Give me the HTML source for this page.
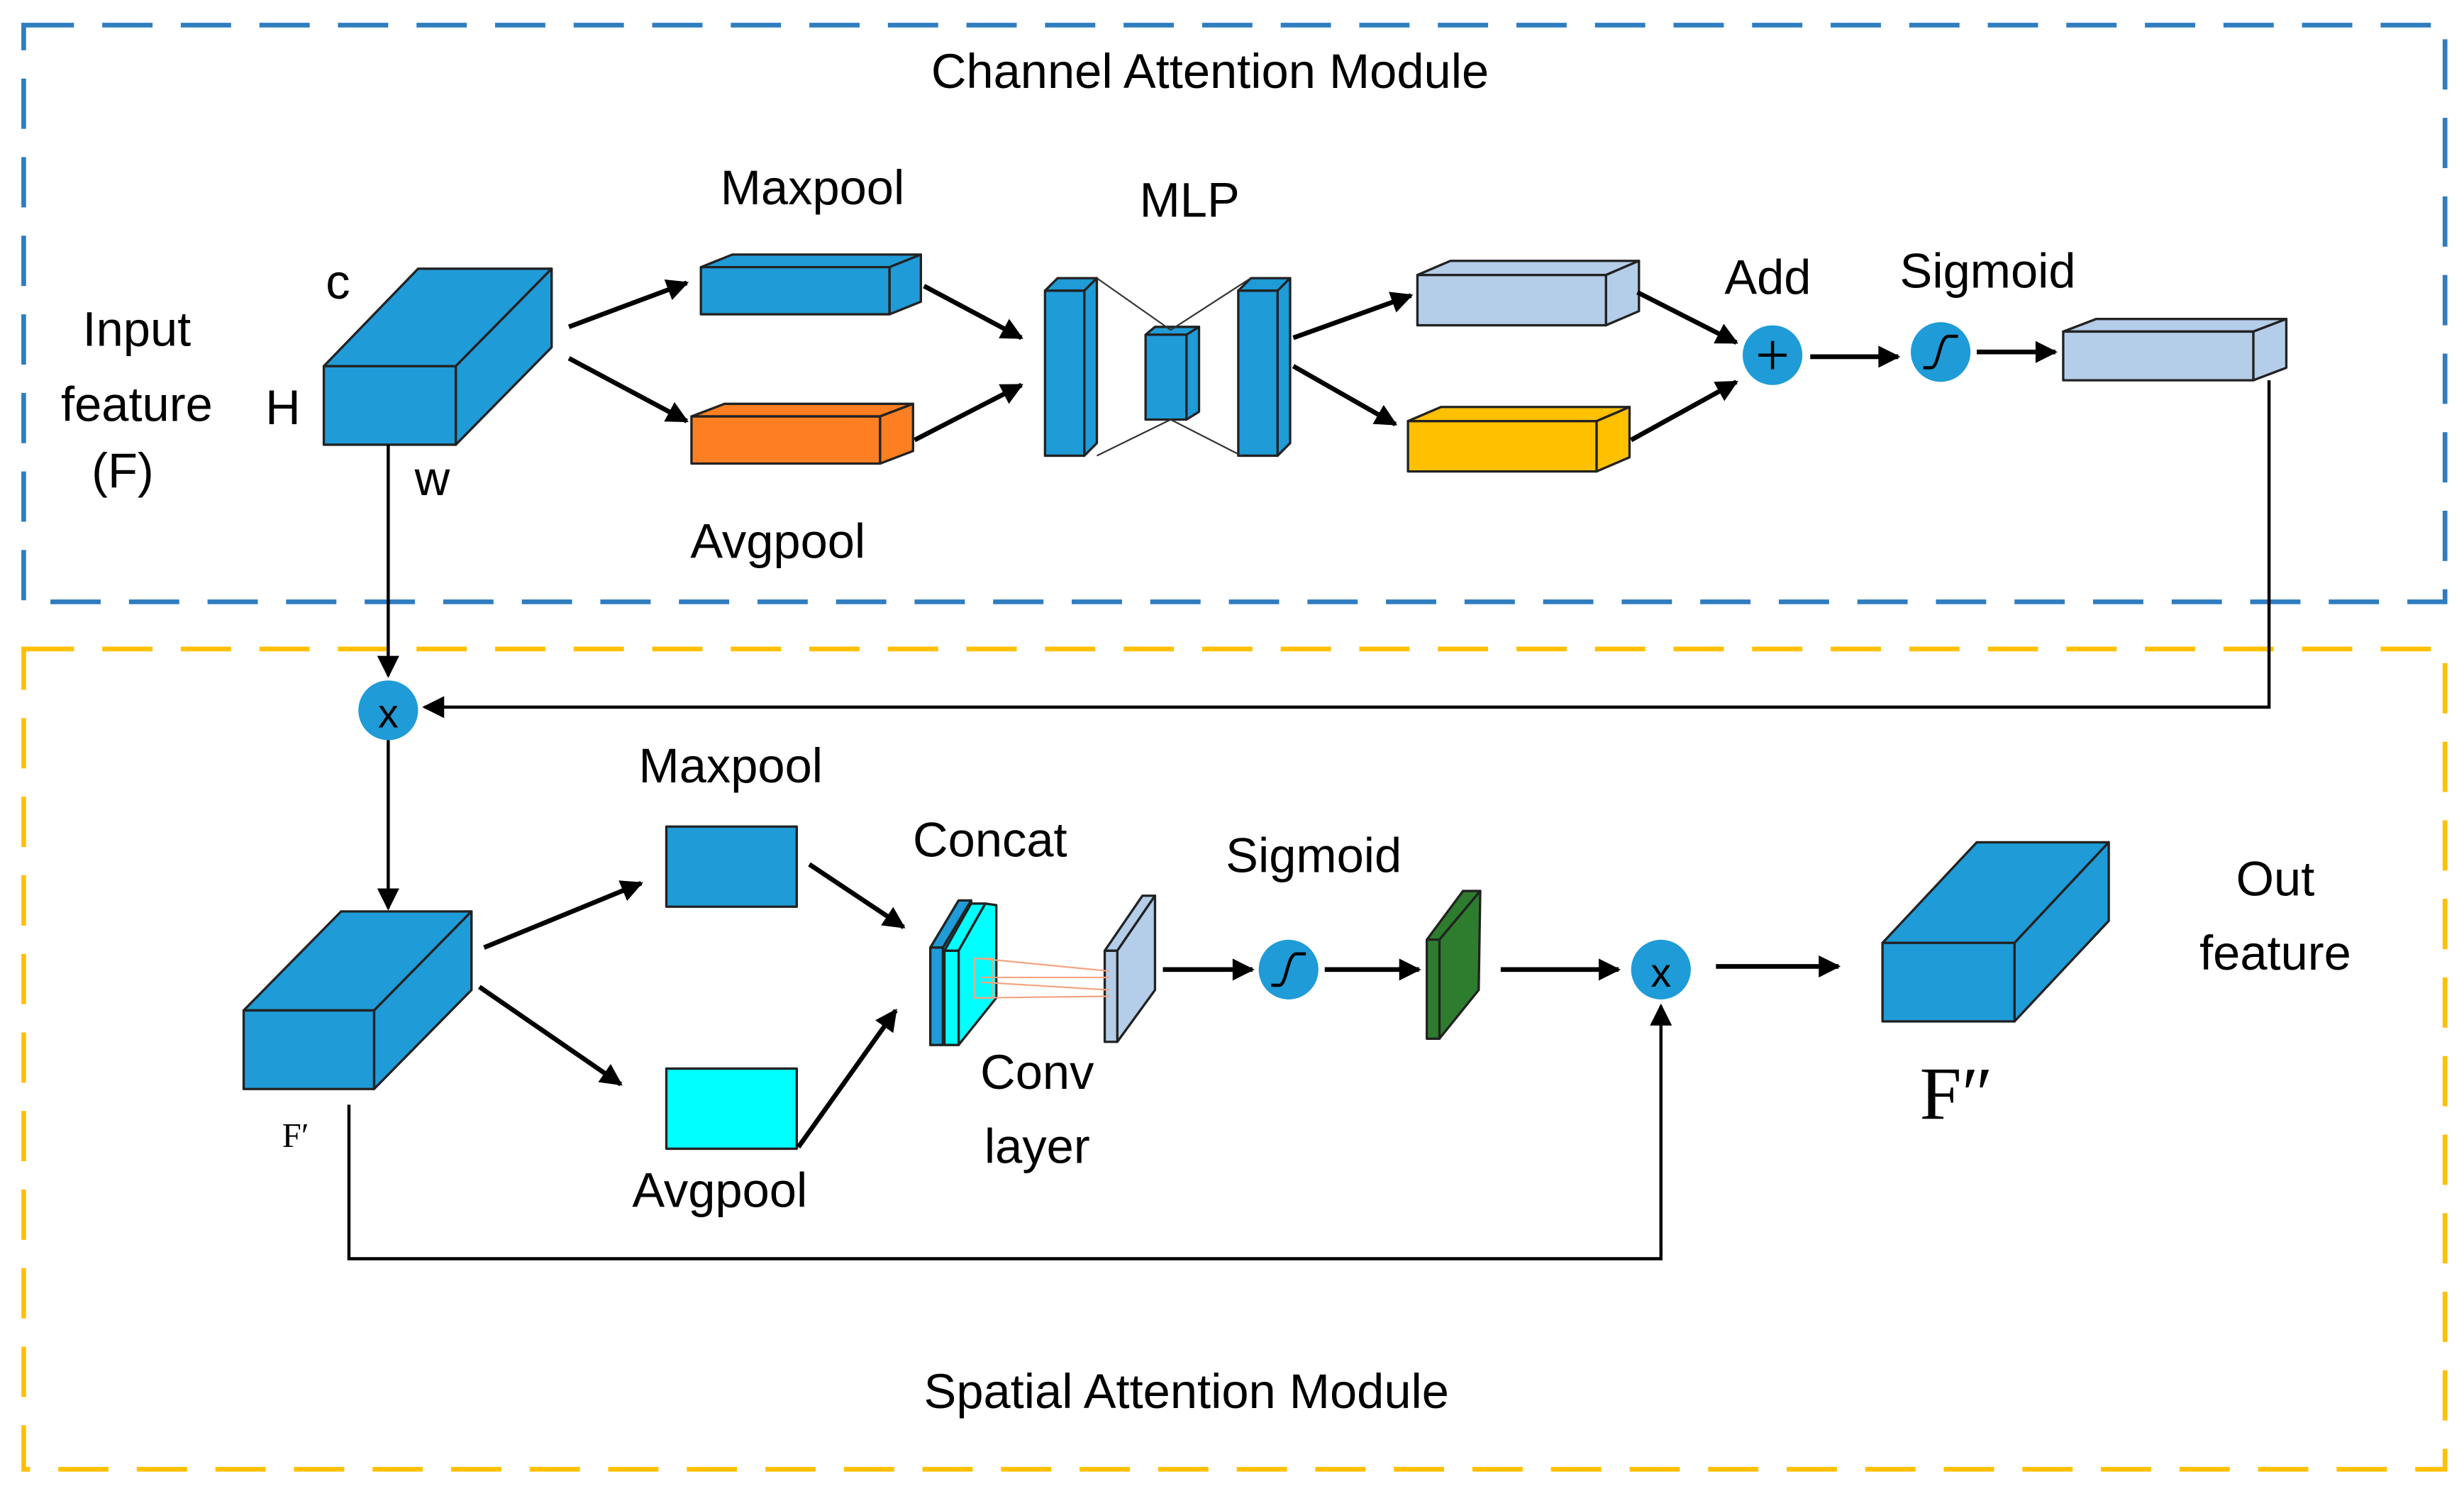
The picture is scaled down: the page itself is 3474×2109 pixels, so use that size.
<!DOCTYPE html>
<html><head><meta charset="utf-8"><style>
html,body{margin:0;padding:0;background:#fff;}
svg{display:block;}
text{font-family:"Liberation Sans",sans-serif;fill:#000;}
</style></head><body>
<svg width="3474" height="2109" viewBox="0 0 1568 952" xmlns="http://www.w3.org/2000/svg">
<defs>
<marker id="b" viewBox="0 0 10 10" refX="9" refY="5" markerWidth="18" markerHeight="14" markerUnits="userSpaceOnUse" orient="auto"><path d="M0,0 L10,5 L0,10 z" fill="#000"/></marker>
</defs>
<rect width="1568" height="952" fill="#fff"/>
<rect x="15" y="16" width="1541" height="367" fill="none" stroke="#2e7dc0" stroke-width="3" stroke-dasharray="32,18"/>
<rect x="15" y="413" width="1541" height="522" fill="none" stroke="#ffc000" stroke-width="3" stroke-dasharray="32,18"/>

<g stroke="#222" stroke-width="1.5" stroke-linejoin="round">
<polygon points="206,233 266,171 351,171 290,233" fill="#1f9bd7"/>
<polygon points="290,233 351,171 351,221 290,283" fill="#1f9bd7"/>
<rect x="206" y="233" width="84" height="50" fill="#1f9bd7"/>
<polygon points="446,170 466,162 586,162 566,170" fill="#1f9bd7"/>
<polygon points="566,170 586,162 586,192 566,200" fill="#1f9bd7"/>
<rect x="446" y="170" width="120" height="30" fill="#1f9bd7"/>
<polygon points="440,265 461,257 581,257 560,265" fill="#fe7f22"/>
<polygon points="560,265 581,257 581,287 560,295" fill="#fe7f22"/>
<rect x="440" y="265" width="120" height="30" fill="#fe7f22"/>
<polygon points="665,185 673,177 698,177 690,185" fill="#1f9bd7"/>
<polygon points="690,185 698,177 698,282 690,290" fill="#1f9bd7"/>
<rect x="665" y="185" width="25" height="105" fill="#1f9bd7"/>
<polygon points="729,213 735,208 763,208 757,213" fill="#1f9bd7"/>
<polygon points="755,213 763,208 763,262 755,267" fill="#1f9bd7"/>
<rect x="729" y="213" width="26" height="54" fill="#1f9bd7"/>
<polygon points="788,185 796,177 821,177 813,185" fill="#1f9bd7"/>
<polygon points="813,185 821,177 821,282 813,290" fill="#1f9bd7"/>
<rect x="788" y="185" width="25" height="105" fill="#1f9bd7"/>
</g>
<g stroke="#333" stroke-width="1" fill="none">
<polyline points="698,177 745,210 796,177"/>
<polyline points="698,290 745,267 790,290"/>
</g>
<g stroke="#222" stroke-width="1.5" stroke-linejoin="round">
<polygon points="902,175 923,166 1043,166 1022,175" fill="#b4cde9"/>
<polygon points="1022,175 1043,166 1043,198 1022,207" fill="#b4cde9"/>
<rect x="902" y="175" width="120" height="32" fill="#b4cde9"/>
<polygon points="896,268 917,259 1037,259 1016,268" fill="#ffc000"/>
<polygon points="1016,268 1037,259 1037,291 1016,300" fill="#ffc000"/>
<rect x="896" y="268" width="120" height="32" fill="#ffc000"/>
<polygon points="1313,211 1334,203 1455,203 1434,211" fill="#b4cde9"/>
<polygon points="1434,211 1455,203 1455,234 1434,242" fill="#b4cde9"/>
<rect x="1313" y="211" width="121" height="31" fill="#b4cde9"/>
<polygon points="155,643 217,580 300,580 238,643" fill="#1f9bd7"/>
<polygon points="238,643 300,580 300,630 238,693" fill="#1f9bd7"/>
<rect x="155" y="643" width="83" height="50" fill="#1f9bd7"/>
<rect x="424" y="526" width="83" height="51" fill="#1f9bd7"/>
<rect x="424" y="680" width="83" height="51" fill="#00ffff"/>
<polygon points="592,603 610,573 618,573 600,603" fill="#1f9bd7"/>
<polygon points="600,603 618,573 618,635 600,665" fill="#1f9bd7"/>
<rect x="592" y="603" width="8" height="62" fill="#1f9bd7"/>
<polygon points="601,605 618,575 627,575 610,605" fill="#00ffff"/>
<polygon points="610,605 627,575 634,576 634,635 610,665" fill="#00ffff"/>
<rect x="601" y="605" width="9" height="60" fill="#00ffff"/>
<polygon points="703,605 727,570 735,570 711,605" fill="#b4cde9"/>
<polygon points="711,605 735,570 735,630 711,663" fill="#b4cde9"/>
<rect x="703" y="605" width="8" height="58" fill="#b4cde9"/>
<polygon points="908,598 931,567 942,567 916,598" fill="#2e7d2e"/>
<polygon points="916,598 942,567 941,630 916,661" fill="#2e7d2e"/>
<rect x="908" y="598" width="8" height="63" fill="#2e7d2e"/>
<polygon points="1198,600 1258,536 1342,536 1282,600" fill="#1f9bd7"/>
<polygon points="1282,600 1342,536 1342,586 1282,650" fill="#1f9bd7"/>
<rect x="1198" y="600" width="84" height="50" fill="#1f9bd7"/>
</g>
<g stroke="#f4a582" stroke-width="1" fill="none">
<rect x="620" y="610" width="12" height="25"/>
<line x1="624" y1="610" x2="706" y2="618"/>
<line x1="624" y1="622" x2="706" y2="622"/>
<line x1="624" y1="625" x2="706" y2="630"/>
<line x1="624" y1="635" x2="706" y2="634"/>
</g>

<g stroke="#000" stroke-width="3" fill="none" marker-end="url(#b)">
<line x1="362" y1="208" x2="437" y2="180"/>
<line x1="362" y1="228" x2="437" y2="268"/>
<line x1="588" y1="182" x2="650" y2="215"/>
<line x1="582" y1="280" x2="650" y2="245"/>
<line x1="823" y1="215" x2="898" y2="188"/>
<line x1="823" y1="233" x2="888" y2="270"/>
<line x1="1042" y1="186" x2="1105" y2="218"/>
<line x1="1038" y1="280" x2="1105" y2="243"/>
<line x1="1152" y1="227" x2="1208" y2="227"/>
<line x1="1258" y1="224" x2="1308" y2="224"/>
<line x1="308" y1="603" x2="408" y2="562"/>
<line x1="305" y1="628" x2="395" y2="690"/>
<line x1="515" y1="550" x2="575" y2="590"/>
<line x1="508" y1="730" x2="570" y2="643"/>
<line x1="740" y1="617" x2="797" y2="617"/>
<line x1="843" y1="617" x2="903" y2="617"/>
<line x1="955" y1="617" x2="1030" y2="617"/>
<line x1="1092" y1="615" x2="1170" y2="615"/>
</g>
<g stroke="#000" stroke-width="2" fill="none" marker-end="url(#b)">
<line x1="247" y1="283" x2="247" y2="430"/>
<polyline points="1444,242 1444,450 270,450"/>
<line x1="247" y1="471" x2="247" y2="578"/>
<polyline points="222,703 222,801 1057,801 1057,640"/>
</g>

<g fill="#1f9bd7">
<circle cx="1128" cy="226" r="19"/>
<circle cx="1235" cy="224" r="19"/>
<circle cx="247" cy="452" r="19"/>
<circle cx="820" cy="617" r="19"/>
<circle cx="1057" cy="617" r="19"/>
</g>
<g stroke="#000" stroke-width="2" fill="none">
<line x1="1119" y1="226" x2="1137" y2="226"/><line x1="1128" y1="217" x2="1128" y2="235"/>
<path d="M1224,234 L1229,234 C1234,234 1234,214 1240,214 L1246,214"/>
<path d="M809,627 L814,627 C819,627 819,607 825,607 L831,607"/>
</g>
<text x="247" y="463" font-size="26" text-anchor="middle">x</text>
<text x="1057" y="628" font-size="26" text-anchor="middle">x</text>

<g font-size="31" text-anchor="middle">
<text x="770" y="56">Channel Attention Module</text>
<text x="517" y="130">Maxpool</text>
<text x="757" y="138">MLP</text>
<text x="1125" y="187">Add</text>
<text x="1265" y="183">Sigmoid</text>
<text x="495" y="355">Avgpool</text>
<text x="87" y="220">Input</text>
<text x="87" y="268">feature</text>
<text x="78" y="310">(F)</text>
<text x="215" y="190">c</text>
<text x="180" y="270">H</text>
<text x="275" y="315">w</text>
<text x="465" y="498">Maxpool</text>
<text x="458" y="768">Avgpool</text>
<text x="630" y="545">Concat</text>
<text x="836" y="555">Sigmoid</text>
<text x="660" y="693">Conv</text>
<text x="660" y="740">layer</text>
<text x="1448" y="570">Out</text>
<text x="1448" y="617">feature</text>
<text x="755" y="896">Spatial Attention Module</text>
</g>
<text x="188" y="730" font-size="22" text-anchor="middle" style="font-family:'Liberation Serif',serif">F′</text>
<text x="1245" y="712" font-size="48" text-anchor="middle" style="font-family:'Liberation Serif',serif">F″</text>
</svg>
</body></html>
